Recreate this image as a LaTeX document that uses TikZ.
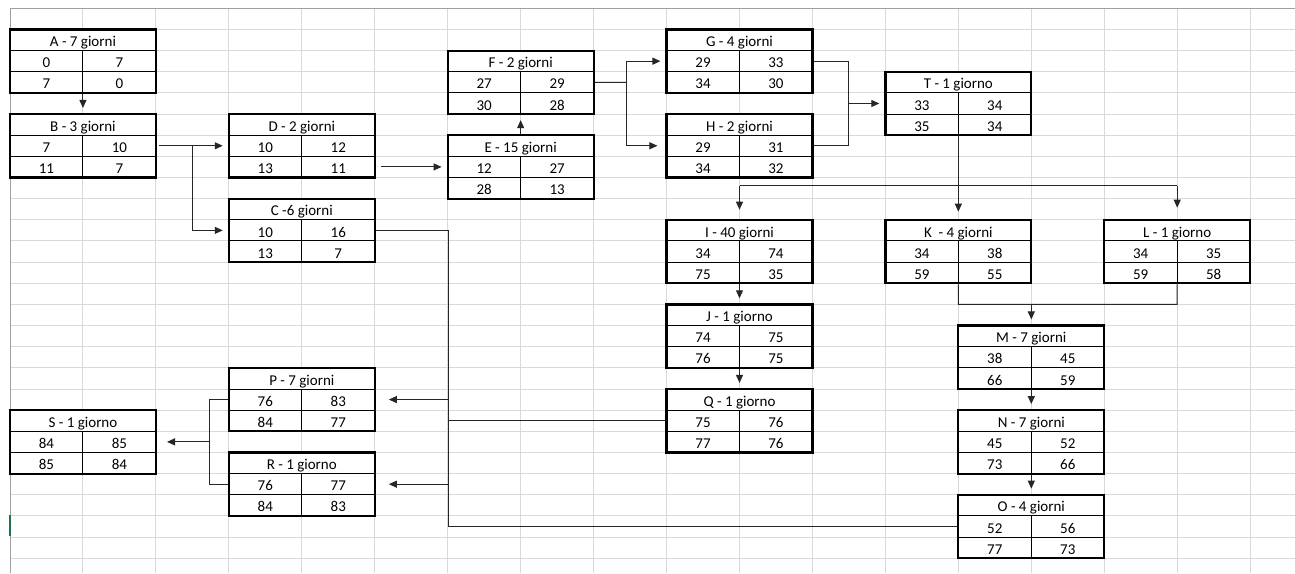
\documentclass[tikz,border=0pt]{standalone}
\usepackage{fontspec}
\setmainfont{Carlito}
\usepackage{tikz}
\usetikzlibrary{arrows.meta, calc, positioning}

\definecolor{gridgray}{RGB}{217,217,217}
\definecolor{bordergray}{RGB}{160,160,160}
\definecolor{excelgreen}{RGB}{33,115,70}

\begin{document}
\begin{tikzpicture}[x=1pt, y=-1pt, >={Triangle[length=8pt,width=7pt]},
    cella/.style={rectangle, draw=black, line width=1pt, fill=white, inner sep=0pt,
        minimum width=72.95pt, minimum height=21.15pt, text height=13.3pt, text depth=0pt,
        font=\fontsize{15}{18}\selectfont},
    scatola/.style={rectangle, draw=black, line width=2.2pt, inner sep=0pt,
        minimum width=145.9pt, minimum height=63.45pt},
    freccia/.style={->, line width=1pt, draw=black!85, shorten >=5pt},
    linea/.style={line width=1pt, draw=black!85},
    griglia/.style={line width=1pt, draw=gridgray}]
    % Define parameters
    \def\cw{72.95}
    \def\rh{21.15}
    % activity box: name, column, row, title, ES, EF, LS, LF
    \def\attivita#1#2#3#4#5#6#7#8{%
        \node[cella, minimum width=145.9pt] (#1-t) at ({10+\cw*(#2+1)}, {8.3+\rh*(#3+0.5)}) {#4};
        \node[cella] (#1-es) at ({10+\cw*(#2+0.5)}, {8.3+\rh*(#3+1.5)}) {#5};
        \node[cella] (#1-ef) at ({10+\cw*(#2+1.5)}, {8.3+\rh*(#3+1.5)}) {#6};
        \node[cella] (#1-ls) at ({10+\cw*(#2+0.5)}, {8.3+\rh*(#3+2.5)}) {#7};
        \node[cella] (#1-lf) at ({10+\cw*(#2+1.5)}, {8.3+\rh*(#3+2.5)}) {#8};
        \node[scatola] (#1) at ({10+\cw*(#2+1)}, {8.3+\rh*(#3+1.5)}) {};
    }

    \useasboundingbox (0,0) rectangle (1295,573);
    \fill[white] (0,0) rectangle (1295,573);

    % Sheet grid
    \foreach \c in {1,...,17} {
        \draw[griglia] ({10+\cw*\c},8.3) -- ({10+\cw*\c},573);
    }
    \foreach \r in {1,...,26} {
        \draw[griglia] (10,{8.3+\rh*\r}) -- (1295,{8.3+\rh*\r});
    }
    \draw[line width=1pt, bordergray] (10,573) -- (10,8.3) -- (1295,8.3);
    \draw[line width=1.5pt, excelgreen] (10,515) -- (10,536);

    % Activities
    \attivita{A}{0}{1}{A - 7 giorni}{0}{7}{7}{0}
    \attivita{B}{0}{5}{B - 3 giorni}{7}{10}{11}{7}
    \attivita{D}{3}{5}{D - 2 giorni}{10}{12}{13}{11}
    \attivita{C}{3}{9}{C -6 giorni}{10}{16}{13}{7}
    \attivita{F}{6}{2}{F - 2 giorni}{27}{29}{30}{28}
    \attivita{E}{6}{6}{E - 15 giorni}{12}{27}{28}{13}
    \attivita{G}{9}{1}{G - 4 giorni}{29}{33}{34}{30}
    \attivita{H}{9}{5}{H - 2 giorni}{29}{31}{34}{32}
    \attivita{T}{12}{3}{T - 1 giorno}{33}{34}{35}{34}
    \attivita{I}{9}{10}{I - 40 giorni}{34}{74}{75}{35}
    \attivita{K}{12}{10}{K~ - 4 giorni}{34}{38}{59}{55}
    \attivita{L}{15}{10}{L - 1 giorno}{34}{35}{59}{58}
    \attivita{J}{9}{14}{J - 1 giorno}{74}{75}{76}{75}
    \attivita{Q}{9}{18}{Q - 1 giorno}{75}{76}{77}{76}
    \attivita{M}{13}{15}{M - 7 giorni}{38}{45}{66}{59}
    \attivita{N}{13}{19}{N - 7 giorni}{45}{52}{73}{66}
    \attivita{O}{13}{23}{O - 4 giorni}{52}{56}{77}{73}
    \attivita{P}{3}{17}{P - 7 giorni}{76}{83}{84}{77}
    \attivita{R}{3}{21}{R - 1 giorno}{76}{77}{84}{83}
    \attivita{S}{0}{19}{S - 1 giorno}{84}{85}{85}{84}

    % A -> B -> D, C
    \draw[freccia] (A.south) -- (B.north);
    \coordinate (bd) at ($(B.east)!0.5!(D.west)$);
    \draw[freccia, shorten <=2pt] (B.east) -- (D.west);
    \draw[freccia] (bd) |- (C.west);

    % D -> E -> F
    \draw[freccia, shorten <=6pt] (D-lf.east) -- (E.west);
    \draw[freccia] (E.north) -- (F.south);

    % F -> G, H
    \coordinate (fgh) at ($(F.east)!0.45!(G.west |- F.east)$);
    \draw[linea] (F.east) -- (fgh);
    \draw[freccia] (fgh) |- (G.west);
    \draw[freccia, shorten >=8pt] (fgh) |- (H.west);

    % G, H -> T
    \coordinate (ght) at ($(G.east)!0.5!(T.west |- G.east)$);
    \draw[linea] (G.east) -- (ght) |- (H.east);
    \draw[freccia] (ght |- T.west) -- (T.west);

    % T -> I, K, L
    \coordinate (tbus) at ($(K.north)+(0,-33)$);
    \draw[freccia, shorten >=7pt] (T.south) -- (K.north);
    \draw[linea] (I.north |- tbus) -- (L.north |- tbus);
    \draw[freccia, shorten >=9pt] (I.north |- tbus) -- (I.north);
    \draw[freccia, shorten >=11pt] (L.north |- tbus) -- (L.north);

    % K, L -> M
    \coordinate (klm) at ($(K.south)!0.5!(M.north -| K.south)$);
    \draw[linea] (K.south) -- (klm) -- (klm -| L.south) -- (L.south);
    \draw[freccia] (klm -| M.north) -- (M.north);

    % Chains
    \draw[freccia] (I.south) -- (J.north);
    \draw[freccia] (J.south) -- (Q.north);
    \draw[freccia] (M.south) -- (N.north);
    \draw[freccia] (N.south) -- (O.north);

    % C, Q, O -> P, R
    \coordinate (bus) at ($(C.east)+(73,0)$);
    \draw[linea] (C.east) -- (bus) -- (bus |- O.west) -- (O.west);
    \draw[linea] (Q.west) -- (Q.west -| bus);
    \draw[freccia, shorten >=13pt] (bus |- P.east) -- (P.east);
    \draw[freccia, shorten >=13pt] (bus |- R.east) -- (R.east);

    % P, R -> S
    \coordinate (prs) at ($(P.west)+(-18,0)$);
    \draw[linea] (P.west) -- (prs) |- (R.west);
    \draw[freccia, shorten >=10pt] (prs |- S.east) -- (S.east);
\end{tikzpicture}
\end{document}
